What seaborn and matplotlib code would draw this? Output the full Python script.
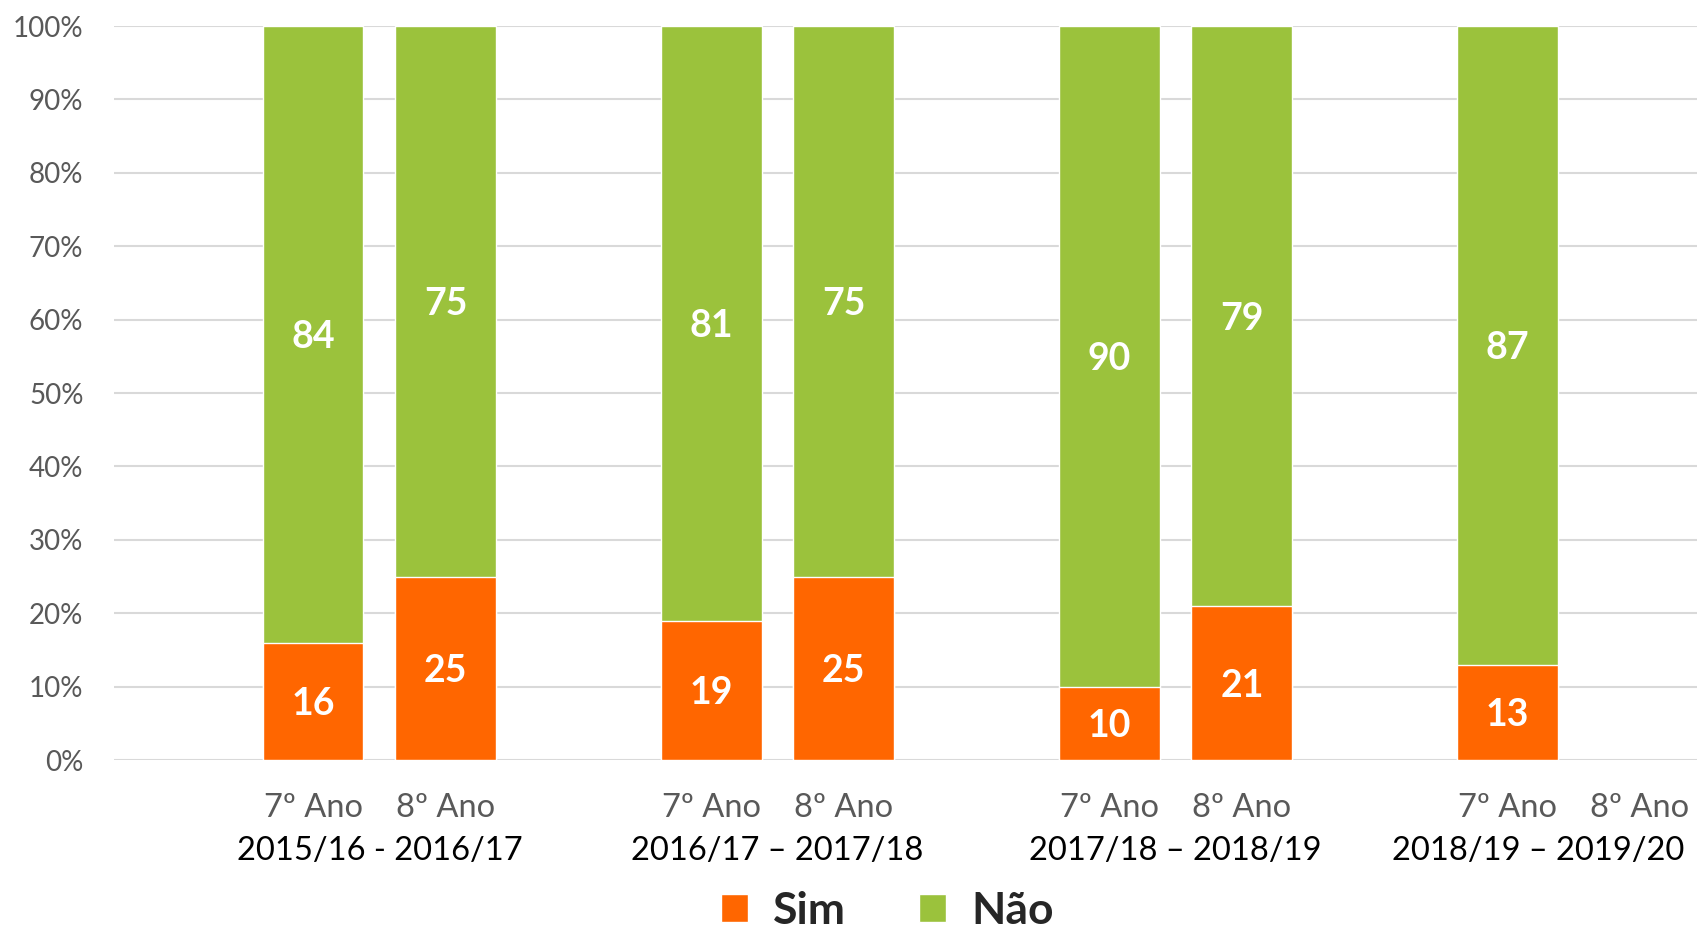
import numpy as np
import pandas as pd
import seaborn as sns
import matplotlib.pyplot as plt
from matplotlib.patches import Patch

# Chart data
groups = ["2015/16 - 2016/17", "2016/17 – 2017/18", "2017/18 – 2018/19", "2018/19 – 2019/20"]
years = ["7º Ano", "8º Ano"]
sim = [16, 25, 19, 25, 10, 21, 13, None]
nao = [84, 75, 81, 75, 90, 79, 87, None]

orange = "#FF6600"
green = "#9BC23C"

# Each group takes three slots: an empty spacer, then 7º and 8º Ano
rows = []
for g in range(len(groups)):
    rows.append({"slot": f"g{g}_pad", "label": "", "sim": np.nan, "total": np.nan})
    for y, yr in enumerate(years):
        i = g * 2 + y
        s = sim[i]
        n = nao[i]
        rows.append({
            "slot": f"g{g}_{y}",
            "label": yr,
            "sim": np.nan if s is None else s,
            "total": np.nan if s is None else s + n,
        })
df = pd.DataFrame(rows)
order = list(df["slot"])

sns.set_theme(style="white")
plt.rcParams["font.family"] = ["Lato", "DejaVu Sans"]

fig = plt.figure(figsize=(16.97, 9.39), dpi=100)
ax = fig.add_axes([0.0672, 0.1906, 0.9328, 0.7817])

# Green (Não) bar to the total, orange (Sim) bar drawn over it
sns.barplot(data=df, x="slot", y="total", order=order, color=green,
            saturation=1, width=0.76, errorbar=None, ax=ax, zorder=2)
sns.barplot(data=df, x="slot", y="sim", order=order, color=orange,
            saturation=1, width=0.76, errorbar=None, ax=ax, zorder=3)

# Value labels
for k, row in df.iterrows():
    if np.isnan(row["sim"]):
        continue
    s = row["sim"]
    n = row["total"] - s
    ax.text(k, s / 2 - 0.4, f"{s:.0f}", ha="center", va="center", color="white",
            fontsize=27, fontweight="bold", zorder=4)
    ax.text(k, s + n / 2 - 0.4, f"{n:.0f}", ha="center", va="center", color="white",
            fontsize=27, fontweight="bold", zorder=4)

ax.set_ylim(0, 100)
ax.set_xlim(-0.5, 11.43)
ax.set_yticks(range(0, 101, 10))
ax.set_yticklabels([f"{v}%" for v in range(0, 101, 10)], fontsize=20, color="#595959")
ax.tick_params(axis="y", length=0, pad=22)

ax.set_xticks(range(len(order)))
ax.set_xticklabels(df["label"], fontsize=23.5, color="#595959")
ax.tick_params(axis="x", length=0, pad=24)

# Group labels under each pair (last one pulled in to fit the edge)
for g, name in enumerate(groups):
    if g == len(groups) - 1:
        ax.text(0.992, -0.124, name, transform=ax.transAxes,
                ha="right", va="center", fontsize=23.5, color="black")
    else:
        ax.text(g * 3 + 1.5, -0.124, name, transform=ax.get_xaxis_transform(),
                ha="center", va="center", fontsize=23.5, color="black")

ax.set_xlabel("")
ax.set_ylabel("")
ax.grid(axis="y", color="#D9D9D9", linewidth=1.5, zorder=0)
ax.set_axisbelow(True)
for side in ["top", "right", "left", "bottom"]:
    ax.spines[side].set_visible(False)

handles = [Patch(facecolor=orange, label="Sim"), Patch(facecolor=green, label="Não")]
fig.legend(handles=handles, loc="center", bbox_to_anchor=(0.523, 0.03), ncol=2,
           frameon=False, prop={"size": 32, "weight": "bold"},
           handlelength=0.6, handleheight=0.6, columnspacing=1.65, handletextpad=0.57)

fig.savefig("out.png", dpi=100)
